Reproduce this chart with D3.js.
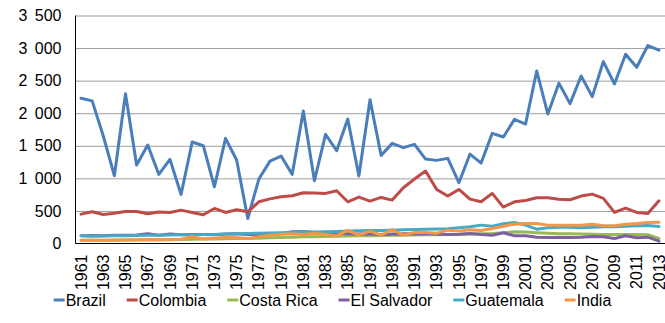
<!DOCTYPE html>
<html>
<head>
<meta charset="utf-8">
<script src="https://cdn.jsdelivr.net/npm/d3@7"></script>
<style>
  html, body { margin: 0; padding: 0; background: #fff; }
  svg { display: block; font-family: "Liberation Sans", Arial, sans-serif; }
</style>
</head>
<body>
<svg id="chart" width="665" height="323"></svg>
<script>
// Yearly series, 1961–2013
const years = d3.range(1961, 2014);

const brazil = [
  2230, 2190, 1650, 1040, 2300, 1204, 1512, 1060, 1291, 753,
  1558, 1501, 871, 1614, 1281, 384, 989, 1265, 1342, 1061,
  2034, 963, 1676, 1424, 1911, 1035, 2208, 1353, 1537, 1471,
  1522, 1296, 1276, 1307, 933, 1373, 1235, 1691, 1635, 1906,
  1834, 2649, 1988, 2460, 2147, 2572, 2255, 2793, 2449, 2905,
  2705, 3039, 2967
];
const colombia = [
  451, 487, 446, 466, 492, 492, 456, 482, 477, 512,
  477, 441, 538, 477, 517, 487, 640, 685, 717, 733,
  779, 774, 769, 810, 640, 712, 651, 707, 666, 856,
  989, 1112, 830, 728, 830, 681, 640, 769, 559, 640,
  661, 702, 702, 681, 671, 728, 758, 692, 477, 543,
  477, 461, 656
];
const costaRica = [
  51, 48, 45, 50, 52, 55, 58, 55, 60, 62,
  65, 68, 70, 72, 75, 78, 82, 88, 92, 97,
  102, 105, 108, 112, 115, 118, 120, 122, 125, 128,
  130, 133, 135, 138, 140, 145, 150, 155, 165, 179,
  175, 165, 158, 150, 148, 145, 142, 140, 138, 138,
  138, 135, 77
];
const elSalvador = [
  120, 122, 118, 125, 128, 130, 148, 128, 145, 135,
  140, 138, 135, 145, 150, 140, 135, 145, 150, 180,
  185, 170, 160, 165, 150, 145, 150, 140, 145, 150,
  150, 155, 145, 140, 143, 154, 138, 128, 164, 118,
  118, 97, 92, 92, 92, 97, 107, 102, 77, 118,
  87, 97, 36
];
const guatemala = [
  118, 112, 115, 118, 120, 122, 125, 128, 130, 133,
  135, 138, 140, 145, 150, 155, 158, 162, 165, 170,
  175, 178, 180, 185, 190, 195, 198, 200, 205, 210,
  215, 218, 222, 228, 241, 256, 282, 266, 302, 323,
  282, 220, 241, 251, 251, 241, 251, 256, 256, 266,
  272, 277, 261
];
const india = [
  46, 48, 50, 52, 55, 58, 62, 60, 58, 65,
  105, 70, 80, 95, 90, 75, 105, 128, 143, 148,
  138, 159, 138, 118, 200, 128, 190, 128, 215, 128,
  169, 169, 159, 205, 190, 210, 200, 231, 266, 297,
  307, 307, 282, 282, 282, 282, 297, 272, 272, 297,
  307, 323, 328
];

const seriesNames = ["Brazil", "Colombia", "Costa Rica", "El Salvador", "Guatemala", "India"];
const seriesValues = [brazil, colombia, costaRica, elSalvador, guatemala, india];
const seriesColors = ["#4A7EBB", "#BE4B48", "#98B954", "#7D60A0", "#46AAC5", "#F79646"];

const yTicks = d3.range(0, 3501, 500);
const xTickYears = years.filter(y => (y - 1961) % 2 === 0);

const svg = d3.select("#chart");
const plotLeft = 75.5, plotRight = 664.5, plotTop = 15.5, plotBottom = 243.5;

const x = d3.scaleBand().domain(years).range([plotLeft, plotRight]).paddingInner(0).paddingOuter(0);
const cx = yr => x(yr) + x.bandwidth() / 2;
const y = d3.scaleLinear().domain([0, 3500]).range([plotBottom, plotTop]);

const fmt = d3.formatLocale({ decimal: ",", thousands: " ", grouping: [3] }).format(",d");

// dotted horizontal gridlines
const grid = svg.append("g")
  .attr("transform", `translate(${plotLeft},0)`)
  .call(d3.axisLeft(y).tickValues(yTicks.filter(v => v > 0)).tickSize(-(665 - plotLeft)).tickFormat(""));
grid.select(".domain").remove();
grid.selectAll(".tick line")
  .attr("stroke", "#3a3a3a")
  .attr("stroke-width", 1)
  .attr("stroke-dasharray", "1,1");

// y axis labels
const yAxis = svg.append("g")
  .attr("transform", `translate(${plotLeft},0)`)
  .call(d3.axisLeft(y).tickValues(yTicks).tickSize(0).tickPadding(14).tickFormat(fmt));
yAxis.select(".domain").remove();
yAxis.selectAll("text")
  .attr("font-size", 16)
  .attr("font-family", "Liberation Sans, Arial, sans-serif")
  .attr("fill", "#000")
  .style("word-spacing", "3px");

// x axis labels, rotated
const xAxis = svg.append("g")
  .attr("transform", `translate(0,${plotBottom})`)
  .call(d3.axisBottom(x).tickValues(xTickYears).tickSize(0).tickFormat(d => String(d)));
xAxis.select(".domain").remove();
xAxis.selectAll("text")
  .attr("font-size", 16)
  .attr("font-family", "Liberation Sans, Arial, sans-serif")
  .attr("fill", "#000")
  .attr("text-anchor", "end")
  .attr("transform", "rotate(-90)")
  .attr("x", -11)
  .attr("y", 0)
  .attr("dy", "0.35em");

// axis lines
svg.append("line").attr("x1", plotLeft).attr("x2", plotLeft).attr("y1", plotTop).attr("y2", plotBottom)
  .attr("stroke", "#000").attr("stroke-width", 1);
svg.append("line").attr("x1", plotLeft).attr("x2", 665).attr("y1", plotBottom).attr("y2", plotBottom)
  .attr("stroke", "#000").attr("stroke-width", 1);

// series lines
const line = d3.line().x((d, i) => cx(years[i])).y(d => y(d));
seriesValues.forEach((vals, k) => {
  svg.append("path")
    .datum(vals)
    .attr("d", line)
    .attr("fill", "none")
    .attr("stroke", seriesColors[k])
    .attr("stroke-width", 3)
    .attr("stroke-linejoin", "round")
    .attr("stroke-linecap", "round");
});

// legend
const legend = svg.append("g");
const items = legend.selectAll("g").data(seriesNames).join("g");
items.append("line")
  .attr("x1", 0).attr("x2", 11).attr("y1", 0).attr("y2", 0)
  .attr("stroke", (d, i) => seriesColors[i]).attr("stroke-width", 3);
items.append("text")
  .attr("x", 12)
  .attr("dy", "0.35em")
  .attr("font-size", 16)
  .attr("fill", "#000")
  .text(d => d);
let pos = 0;
const gap = 21;
items.each(function () {
  const w = d3.select(this).select("text").node().getComputedTextLength() + 12;
  d3.select(this).attr("transform", `translate(${pos},0)`);
  pos += w + gap;
});
const total = pos - gap;
legend.attr("transform", `translate(${(665 - total) / 2},300)`);
</script>
</body>
</html>
